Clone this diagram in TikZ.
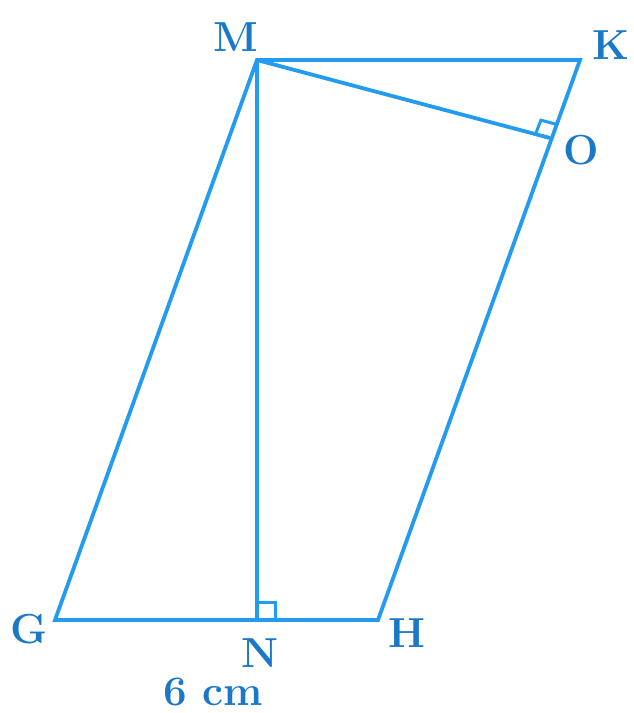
\documentclass[tikz,border=0pt]{standalone}
\usetikzlibrary{calc}
\definecolor{geoblue}{RGB}{35,155,240}
\definecolor{labblue}{RGB}{25,120,200}
\begin{document}
\begin{tikzpicture}[x=1pt,y=-1pt,
  edge/.style={draw=geoblue,line width=3.8pt,line join=miter},
  ramark/.style={draw=geoblue,line width=3pt},
  lab/.style={text=labblue,font=\fontsize{42}{46}\selectfont\bfseries,inner sep=0pt}]
\useasboundingbox (0,0) rectangle (633,713);
\coordinate (M) at (257,60);
\coordinate (K) at (580,60);
\coordinate (H) at (378,620);
\coordinate (G) at (55,620);
\coordinate (N) at (257,620);
\coordinate (O) at (550,138);
\draw[edge] (G) -- (H) -- (K) -- (M) -- cycle;
\draw[edge] (M) -- (N);
\draw[edge] (M) -- (O);
% right angle at N
\draw[ramark] ($(N)+(0,-18)$) -- ($(N)+(18,-18)$) -- ($(N)+(18,0)$);
% right angle at O
\coordinate (a) at ($(O)!15pt!(M)$);
\coordinate (b) at ($(O)!15pt!(K)$);
\draw[ramark] (a) -- ($(a)+(b)-(O)$) -- (b);
\node[lab] (lM) at (236,37) {M};
\node[lab] (lK) at (611,45) {K};
\node[lab] (lO) at (581,150) {O};
\node[lab] (lG) at (29,629) {G};
\node[lab] (lH) at (407,633) {H};
\node[lab] (lN) at (260,653) {N};
\node[lab] (l6) at (213,692) {6 cm};
\end{tikzpicture}
\end{document}
